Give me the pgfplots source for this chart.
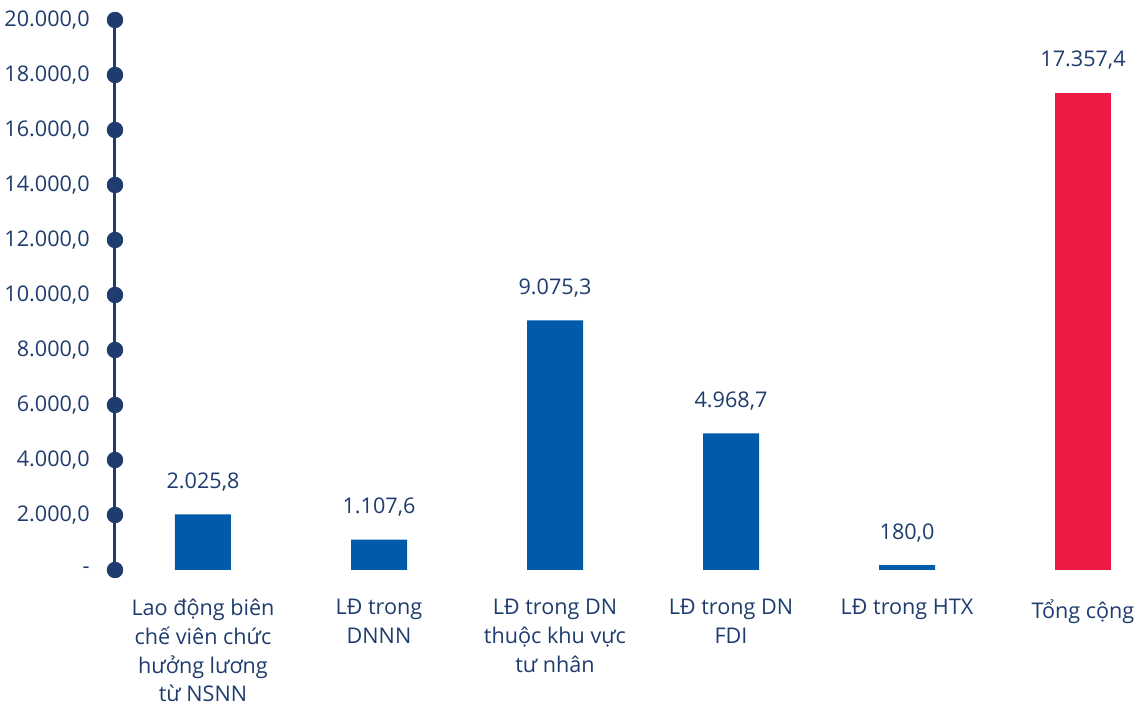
\documentclass[border=0pt]{standalone}
\usepackage{fontspec}
\setmainfont{Open Sans}
\usepackage{pgfplots}
\pgfplotsset{compat=1.18}
\definecolor{navy}{HTML}{1F3C6E}
\definecolor{barblue}{HTML}{005BAA}
\definecolor{barred}{HTML}{EE1A45}
\begin{document}
\begin{tikzpicture}
\fontsize{10.8}{14.3}\selectfont
\begin{axis}[
  scale only axis,
  width=514.8pt, height=275pt,
  xmin=-0.5, xmax=5.35,
  ymin=0, ymax=20000,
  scaled y ticks=false,
  clip=false,
  axis lines*=left,
  x axis line style={draw=none},
  y axis line style={navy, line width=1.5pt},
  major tick length=0pt,
  ytick={0,2000,...,20000},
  yticklabels={{-},{2.000,0},{4.000,0},{6.000,0},{8.000,0},{10.000,0},{12.000,0},{14.000,0},{16.000,0},{18.000,0},{20.000,0}},
  xtick={0,1,2,3,4,5},
  xticklabels={{Lao động biên\\chế viên chức\\hưởng lương\\từ NSNN},{LĐ trong\\DNNN},{LĐ trong DN\\thuộc khu vực\\tư nhân},{LĐ trong DN\\FDI},{LĐ trong HTX\\\mbox{}},{Tổng cộng\\\mbox{}}},
  tick label style={font=\fontsize{10.8}{14.3}\selectfont, text=navy},
  yticklabel style={inner sep=0pt, xshift=-12.5pt},
  xticklabel style={align=center, inner sep=0pt, anchor=north, yshift=-14.5pt, execute at begin node={\rule{0pt}{13.5pt}}},
  ytick style={draw=none}, xtick style={draw=none},
  ybar, bar width=28pt,
]
\addplot[fill=barblue, draw=none, bar shift=0pt,
  nodes near coords, point meta=explicit symbolic,
  every node near coord/.append style={font=\fontsize{10.8}{14.3}\selectfont, text=navy, anchor=base, yshift=13pt}] coordinates {
  (0,2025.8) [2.025,8]
  (1,1107.6) [1.107,6]
  (2,9075.3) [9.075,3]
  (3,4968.7) [4.968,7]
  (4,180.0) [180,0]
};
\addplot[fill=barred, draw=none, bar shift=0pt,
  nodes near coords, point meta=explicit symbolic,
  every node near coord/.append style={font=\fontsize{10.8}{14.3}\selectfont, text=navy, anchor=base, yshift=13pt}] coordinates {
  (5,17357.4) [17.357,4]
};
\addplot[only marks, mark=*, mark size=3.9pt, navy, forget plot] coordinates {
  (-0.5,0) (-0.5,2000) (-0.5,4000) (-0.5,6000) (-0.5,8000) (-0.5,10000)
  (-0.5,12000) (-0.5,14000) (-0.5,16000) (-0.5,18000) (-0.5,20000)
};
\coordinate (bl) at (axis cs:-0.5,0);
\end{axis}
\pgfresetboundingbox
\path[use as bounding box] ([shift={(-57.5pt,-68pt)}]bl) rectangle ([shift={(515.5pt,285pt)}]bl);
\end{tikzpicture}
\end{document}
